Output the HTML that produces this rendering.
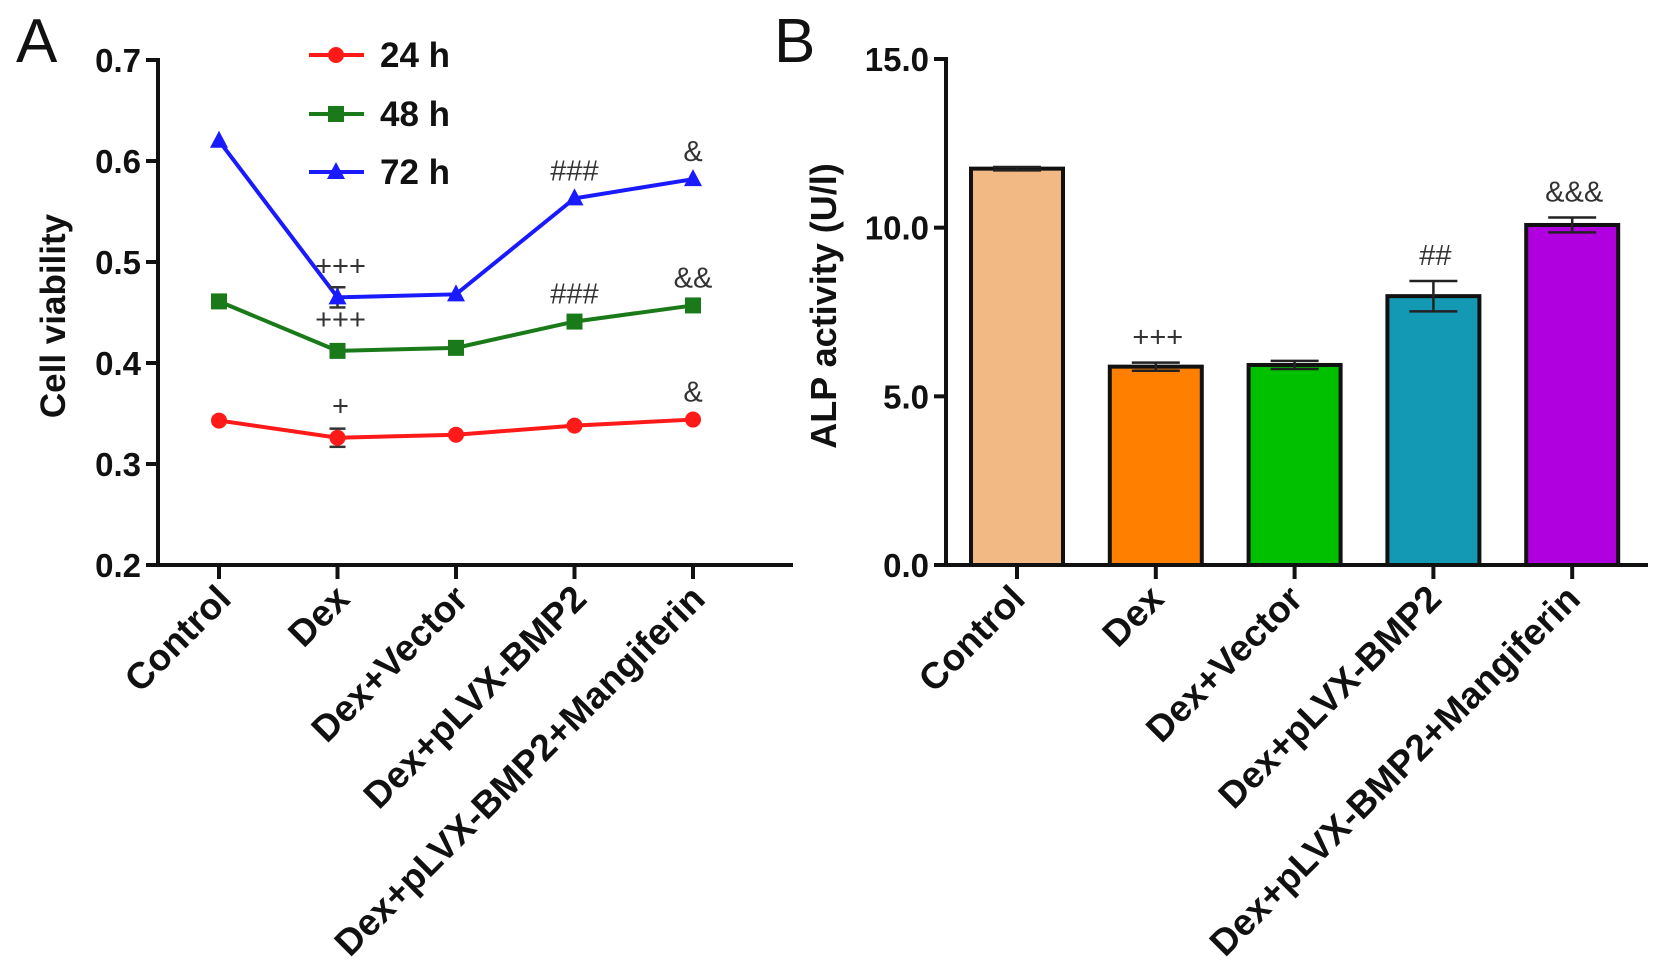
<!DOCTYPE html>
<html><head><meta charset="utf-8"><style>
html,body{margin:0;padding:0;background:#fff;}
svg{display:block;font-family:"Liberation Sans",Arial,sans-serif;}
</style></head><body>
<svg id="chart" width="1654" height="970" viewBox="0 0 1654 970" xmlns="http://www.w3.org/2000/svg">
<g id="panelA"></g>
<g id="panelB"></g>
</svg>
<script>
const categories = ["Control","Dex","Dex+Vector","Dex+pLVX-BMP2","Dex+pLVX-BMP2+Mangiferin"];
const seriesNames = ["24 h","48 h","72 h"];
const values24 = [0.343,0.326,0.329,0.338,0.344];
const values48 = [0.461,0.412,0.415,0.441,0.457];
const values72 = [0.620,0.465,0.468,0.563,0.582];
const err24 = [0,0.009,0,0,0];
const err48 = [0,0,0,0,0];
const err72 = [0,0.010,0,0,0];
const annot24 = ["","+","","","&"];
const annot48 = ["","+++","","###","&&"];
const annot72 = ["","+++","","###","&"];
const ticksA = [0.2,0.3,0.4,0.5,0.6,0.7];
const tickLabelsA = ["0.2","0.3","0.4","0.5","0.6","0.7"];
const alpValues = [11.75,5.88,5.93,7.97,10.08];
const alpErr = [0.05,0.12,0.12,0.45,0.22];
const alpAnnot = ["","+++","","##","&&&"];
const ticksB = [0,5,10,15];
const tickLabelsB = ["0.0","5.0","10.0","15.0"];

const NS="http://www.w3.org/2000/svg";
function mk(parent,tag,attrs,text){const e=document.createElementNS(NS,tag);for(const k in attrs)e.setAttribute(k,attrs[k]);if(text!==undefined)e.textContent=text;parent.appendChild(e);return e;}

// Panel A
const A=document.getElementById('panelA');
const ayTop=60, ayBot=565, aMin=0.2, aMax=0.7;
const ay=v=>ayBot-(v-aMin)/(aMax-aMin)*(ayBot-ayTop);
const ax=i=>219+i*118.5;
let t;
t=mk(A,'text',{x:16,y:62,'font-size':62,fill:'#111'},'A');


let axl=mk(A,'line',{x1:158,y1:ayTop-2,x2:158,y2:ayBot+2,stroke:'#111','stroke-width':4});


axl=mk(A,'line',{x1:146,y1:ayBot,x2:793,y2:ayBot,stroke:'#111','stroke-width':4});


ticksA.forEach((v,i)=>{
  mk(A,'line',{x1:146,y1:ay(v),x2:158,y2:ay(v),stroke:'#111','stroke-width':4});
  const tl=mk(A,'text',{x:141,y:ay(v)+12,'font-size':33,'font-weight':'bold','text-anchor':'end',fill:'#111'},tickLabelsA[i]);
  
  
});
t=mk(A,'text',{x:0,y:0,'font-size':35,'font-weight':'bold','text-anchor':'middle',fill:'#111',transform:'translate(65,316) rotate(-90)'},'Cell viability');


categories.forEach((c,i)=>{
  mk(A,'line',{x1:ax(i),y1:ayBot,x2:ax(i),y2:ayBot+14,stroke:'#111','stroke-width':4});
  const tl=mk(A,'text',{x:0,y:0,'font-size':37,'font-weight':'bold','text-anchor':'end',fill:'#111',transform:`translate(${ax(i)+14},${ayBot+36}) rotate(-45)`},c);
  
  
});
const series=[{v:values24,e:err24,a:annot24,c:'#ff1a1a',m:'circle'},{v:values48,e:err48,a:annot48,c:'#1a7a1a',m:'square'},{v:values72,e:err72,a:annot72,c:'#1a1aff',m:'tri'}];
function marker(g,m,x,y,c){
  if(m==='circle')return mk(g,'circle',{cx:x,cy:y,r:8,fill:c});
  if(m==='square')return mk(g,'rect',{x:x-8,y:y-8,width:16,height:16,fill:c});
  return mk(g,'polygon',{points:`${x},${y-10} ${x+9},${y+7} ${x-9},${y+7}`,fill:c});
}
series.forEach((s,si)=>{
  const g=mk(A,'g',{});
  
  
  const pts=s.v.map((v,i)=>ax(i)+','+ay(v)).join(' ');
  const pl=mk(g,'polyline',{points:pts,fill:'none',stroke:s.c,'stroke-width':4});
  
  
  s.v.forEach((v,i)=>{
    if(s.e[i]>0){
      mk(g,'line',{x1:ax(i),y1:ay(v+s.e[i]),x2:ax(i),y2:ay(v-s.e[i]),stroke:'#333','stroke-width':2.5});
      mk(g,'line',{x1:ax(i)-8,y1:ay(v+s.e[i]),x2:ax(i)+8,y2:ay(v+s.e[i]),stroke:'#333','stroke-width':2.5});
      mk(g,'line',{x1:ax(i)-8,y1:ay(v-s.e[i]),x2:ax(i)+8,y2:ay(v-s.e[i]),stroke:'#333','stroke-width':2.5});
    }
    const mm=marker(g,s.m,ax(i),ay(v),s.c);
    
    
    if(s.a[i]){
      const at=mk(g,'text',{x:ax(i)+(i===1?3:0),y:ay(v)-(i===1?22:18),'font-size':29,'text-anchor':'middle',fill:'#333'},s.a[i]);
      
      
    }
  });
});
// legend
const legY=[55,114,172];
series.forEach((s,si)=>{
  const lg=mk(A,'g',{});
  
  
  mk(lg,'line',{x1:309,y1:legY[si],x2:364,y2:legY[si],stroke:s.c,'stroke-width':4});
  marker(lg,s.m,336,legY[si],s.c);
  mk(lg,'text',{x:380,y:legY[si]+12,'font-size':35,'font-weight':'bold',fill:'#111'},seriesNames[si]);
});

// Panel B
const B=document.getElementById('panelB');
const byTop=59, byBot=565, bMax=15;
const by=v=>byBot-v/bMax*(byBot-byTop);
const bx=i=>1017+i*138.8;
const colors=['#f2b984','#ff8000','#00c000','#1399b3','#b000e0'];
t=mk(B,'text',{x:774,y:62,'font-size':62,fill:'#111'},'B');


categories.forEach((c,i)=>{
  const bw=92;
  const r=mk(B,'rect',{x:bx(i)-bw/2,y:by(alpValues[i]),width:bw,height:byBot-by(alpValues[i]),fill:colors[i],stroke:'#111','stroke-width':4});
  
  
  const v=alpValues[i],e=alpErr[i];
  mk(B,'line',{x1:bx(i),y1:by(v+e),x2:bx(i),y2:by(v-e),stroke:'#222','stroke-width':2.5});
  mk(B,'line',{x1:bx(i)-24,y1:by(v+e),x2:bx(i)+24,y2:by(v+e),stroke:'#222','stroke-width':2.5});
  mk(B,'line',{x1:bx(i)-24,y1:by(v-e),x2:bx(i)+24,y2:by(v-e),stroke:'#222','stroke-width':2.5});
  if(alpAnnot[i]){
    const at=mk(B,'text',{x:bx(i)+2,y:by(v+e)-16,'font-size':29,'text-anchor':'middle',fill:'#333'},alpAnnot[i]);
    
    
  }
  mk(B,'line',{x1:bx(i),y1:byBot,x2:bx(i),y2:byBot+14,stroke:'#111','stroke-width':4});
  const tl=mk(B,'text',{x:0,y:0,'font-size':37,'font-weight':'bold','text-anchor':'end',fill:'#111',transform:`translate(${bx(i)+10},${byBot+36}) rotate(-45)`},c);
  
  
});
axl=mk(B,'line',{x1:946,y1:byTop-2,x2:946,y2:byBot+2,stroke:'#111','stroke-width':4});


axl=mk(B,'line',{x1:934,y1:byBot,x2:1648,y2:byBot,stroke:'#111','stroke-width':4});


ticksB.forEach((v,i)=>{
  mk(B,'line',{x1:934,y1:by(v),x2:946,y2:by(v),stroke:'#111','stroke-width':4});
  const tl=mk(B,'text',{x:929,y:by(v)+12,'font-size':33,'font-weight':'bold','text-anchor':'end',fill:'#111'},tickLabelsB[i]);
  
  
});
t=mk(B,'text',{x:0,y:0,'font-size':36,'font-weight':'bold','text-anchor':'middle',fill:'#111',transform:'translate(836,306) rotate(-90)'},'ALP activity (U/l)');


</script>
</body></html>
